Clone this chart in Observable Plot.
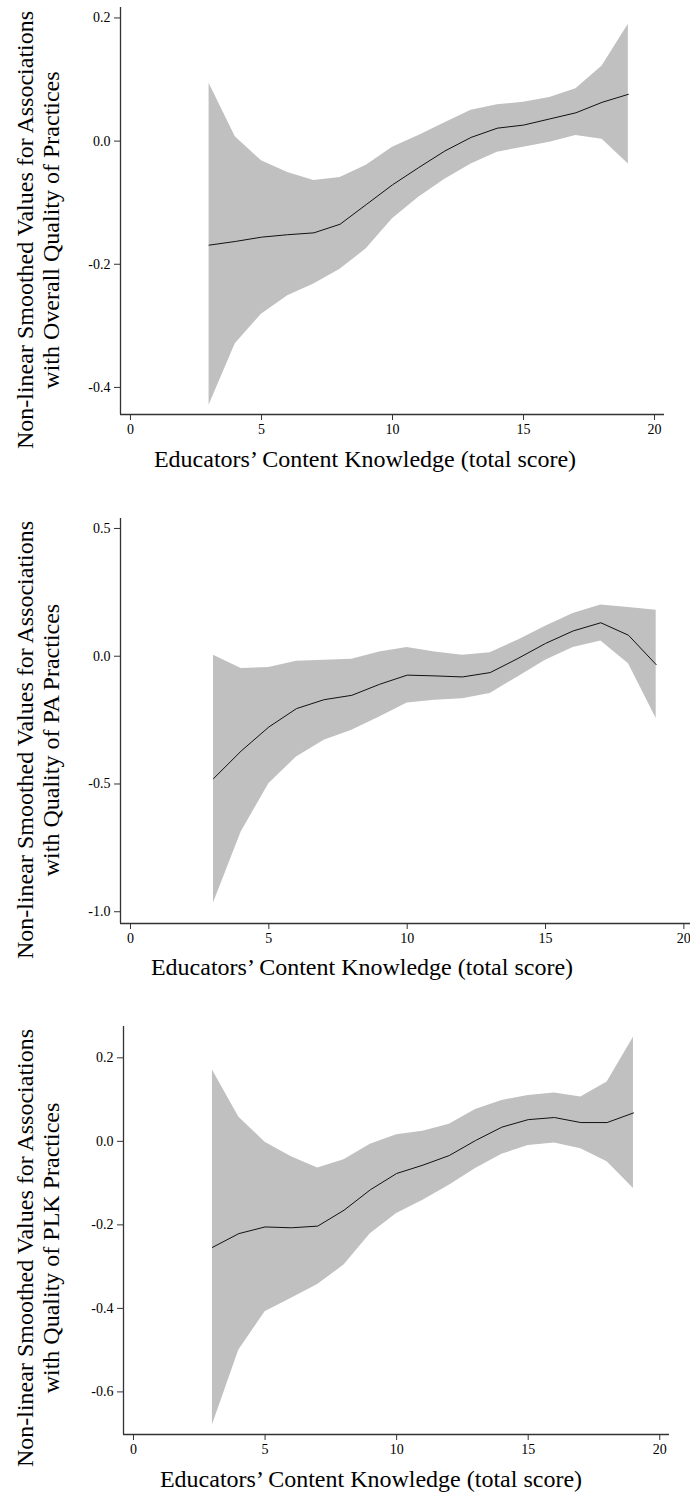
<!DOCTYPE html>
<html>
<head>
<meta charset="utf-8">
<script src="https://cdn.jsdelivr.net/npm/d3@7"></script>
<script src="https://cdn.jsdelivr.net/npm/@observablehq/plot@0.6"></script>
<style>
  html, body { margin: 0; padding: 0; background: #fff; }
  #chart { width: 690px; }
  #chart svg { display: block; }
</style>
</head>
<body>
<div id="chart"></div>
<script>
// ---- data ----
const score = [3,4,5,6,7,8,9,10,11,12,13,14,15,16,17,18,19];
const xTicks = [0,5,10,15,20];

// Panel 1: Overall Quality of Practices
const overallFit = [-0.169,-0.163,-0.156,-0.152,-0.149,-0.135,-0.103,-0.071,-0.043,-0.016,0.006,0.021,0.026,0.036,0.046,0.063,0.076];
const overallHi  = [0.094,0.007,-0.032,-0.051,-0.064,-0.059,-0.039,-0.010,0.009,0.030,0.050,0.059,0.063,0.071,0.085,0.122,0.190];
const overallLo  = [-0.429,-0.329,-0.281,-0.251,-0.232,-0.208,-0.175,-0.126,-0.091,-0.062,-0.037,-0.018,-0.010,-0.002,0.009,0.003,-0.037];
const overallTicks = [-0.4,-0.2,0,0.2];

// Panel 2: Quality of PA Practices
const paFit = [-0.479,-0.371,-0.277,-0.205,-0.170,-0.153,-0.110,-0.074,-0.077,-0.081,-0.064,-0.009,0.050,0.099,0.131,0.082,-0.033];
const paHi  = [0.004,-0.048,-0.044,-0.020,-0.016,-0.012,0.017,0.034,0.017,0.004,0.014,0.063,0.117,0.167,0.200,0.191,0.180];
const paLo  = [-0.966,-0.688,-0.499,-0.394,-0.329,-0.290,-0.238,-0.183,-0.172,-0.166,-0.146,-0.081,-0.016,0.034,0.060,-0.029,-0.244];
const paTicks = [-1,-0.5,0,0.5];

// Panel 3: Quality of PLK Practices
const plkFit = [-0.254,-0.221,-0.205,-0.207,-0.203,-0.165,-0.116,-0.077,-0.057,-0.034,0.002,0.034,0.052,0.057,0.045,0.045,0.068];
const plkHi  = [0.171,0.058,-0.002,-0.037,-0.064,-0.044,-0.007,0.016,0.024,0.041,0.076,0.098,0.110,0.116,0.106,0.142,0.249];
const plkLo  = [-0.679,-0.500,-0.408,-0.376,-0.343,-0.296,-0.221,-0.173,-0.141,-0.105,-0.065,-0.031,-0.010,-0.004,-0.018,-0.049,-0.113];
const plkTicks = [-0.6,-0.4,-0.2,0,0.2];

const yTitle1 = "Non-linear Smoothed Values for Associations";
const yTitles2 = ["with Overall Quality of Practices", "with Quality of PA Practices", "with Quality of PLK Practices"];
const xTitle = "Educators\u2019 Content Knowledge (total score)";

// ---- layout ----
const FONT = "Liberation Serif, Times New Roman, serif";
const panels = [
  {fit: overallFit, hi: overallHi, lo: overallLo, yTicks: overallTicks, sub: yTitles2[0],
   height: 490, mt: 7, mb: 76, ml: 120, mr: 26, xDom: [-0.38, 20.38], yDom: [-0.444, 0.217],
   yTitleY: 230, xTitleX: 365, xTitleY: 467},
  {fit: paFit, hi: paHi, lo: paLo, yTicks: paTicks, sub: yTitles2[1],
   height: 510, mt: 28, mb: 77, ml: 120, mr: 0, xDom: [-0.361, 20.24], yDom: [-1.046, 0.539],
   yTitleY: 250, xTitleX: 362, xTitleY: 485},
  {fit: plkFit, hi: plkHi, lo: plkLo, yTicks: plkTicks, sub: yTitles2[2],
   height: 494, mt: 26, mb: 60, ml: 123, mr: 21, xDom: [-0.38, 20.37], yDom: [-0.702, 0.275],
   yTitleY: 248, xTitleX: 371, xTitleY: 487}
];

const chart = document.getElementById("chart");
for (const p of panels) {
  const rows = score.map((s, i) => ({score: s, fit: p.fit[i], lo: p.lo[i], hi: p.hi[i]}));
  const svg = Plot.plot({
    width: 690,
    height: p.height,
    marginTop: p.mt, marginBottom: p.mb, marginLeft: p.ml, marginRight: p.mr,
    style: {fontFamily: FONT, fontSize: "14px", background: "#fff", color: "#000", overflow: "visible"},
    x: {domain: p.xDom},
    y: {domain: p.yDom},
    marks: [
      Plot.areaY(rows, {x: "score", y1: "lo", y2: "hi", fill: "#c0c0c0", curve: "linear"}),
      Plot.lineY(rows, {x: "score", y: "fit", stroke: "#111", strokeWidth: 1, curve: "linear"}),
      Plot.ruleX([p.xDom[0]], {stroke: "#333", strokeWidth: 1.3}),
      Plot.ruleY([p.yDom[0]], {stroke: "#333", strokeWidth: 1.3}),
      Plot.axisY({ticks: p.yTicks, tickSize: 6, tickPadding: 4, tickFormat: d => d.toFixed(1), label: null, stroke: "#333", fontSize: 14}),
      Plot.axisX({ticks: xTicks, tickSize: 6, tickPadding: 4, tickFormat: d => String(d), label: null, stroke: "#333", fontSize: 14})
    ]
  });
  const s = d3.select(svg);
  const g = s.append("g").attr("font-family", FONT).attr("font-size", 24).attr("fill", "#000");
  g.append("text").attr("transform", `translate(33,${p.yTitleY}) rotate(-90)`).attr("text-anchor", "middle").text(yTitle1);
  g.append("text").attr("transform", `translate(59,${p.yTitleY}) rotate(-90)`).attr("text-anchor", "middle").text(p.sub);
  g.append("text").attr("x", p.xTitleX).attr("y", p.xTitleY).attr("text-anchor", "middle").text(xTitle);
  chart.appendChild(svg);
}
</script>
</body>
</html>
